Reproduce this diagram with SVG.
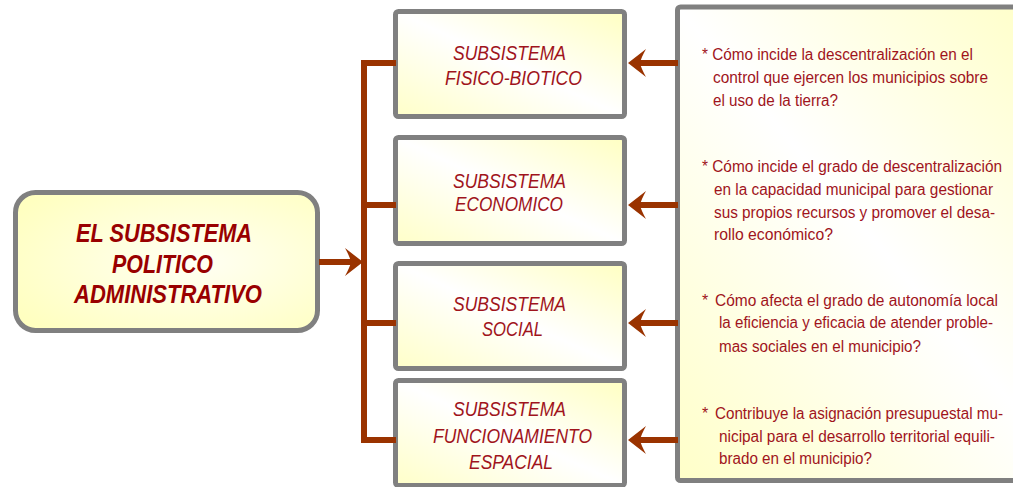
<svg xmlns="http://www.w3.org/2000/svg" width="1013" height="487" viewBox="0 0 1013 487">
<defs>
<linearGradient id="fillG" x1="1" y1="0" x2="0" y2="1">
<stop offset="0" stop-color="#FFFFC2"/>
<stop offset="0.5" stop-color="#FFFFFF"/>
<stop offset="1" stop-color="#FFFFC8"/>
</linearGradient>
<radialGradient id="mainG" cx="0.6" cy="0.5" r="0.7">
<stop offset="0" stop-color="#FFFFF4"/>
<stop offset="1" stop-color="#FFFFC0"/>
</radialGradient>
<marker id="arr" markerUnits="userSpaceOnUse" viewBox="-8 -16 22 32" markerWidth="22" markerHeight="32" refX="0" refY="0" orient="auto">
<path d="M12,0 L-6,-14 Q-1,-5 0,0 Q-1,5 -6,14 Z" fill="#9A3300"/>
</marker>
</defs>
<style>
.box{stroke:#808080;stroke-width:5;fill:url(#fillG)}
.conn{stroke:#9A3300;stroke-width:6;fill:none}
.sub{font-family:"Liberation Sans",Arial,sans-serif;font-style:italic;font-size:20px;fill:#A0141C}
.main{font-family:"Liberation Sans",Arial,sans-serif;font-style:italic;font-weight:bold;font-size:25px;fill:#990000}
.q{font-family:"Liberation Sans",Arial,sans-serif;font-size:16px;fill:#A0141C}
</style>
<g id="main">
<rect x="15.5" y="192.5" width="302" height="138" rx="20" ry="20" stroke="#808080" stroke-width="5" fill="url(#mainG)"/>
<text class="main" x="76" y="242" textLength="176" lengthAdjust="spacingAndGlyphs">EL SUBSISTEMA</text>
<text class="main" x="112" y="273" textLength="101" lengthAdjust="spacingAndGlyphs">POLITICO</text>
<text class="main" x="74" y="303" textLength="188" lengthAdjust="spacingAndGlyphs">ADMINISTRATIVO</text>
</g>
<g id="fisico">
<rect class="box" x="395.5" y="11.5" width="229" height="105" rx="3"/>
<text class="sub" x="453" y="60" textLength="113" lengthAdjust="spacingAndGlyphs">SUBSISTEMA</text>
<text class="sub" x="445" y="85" textLength="137" lengthAdjust="spacingAndGlyphs">FISICO-BIOTICO</text>
</g>
<g id="economico">
<rect class="box" x="395.5" y="137.5" width="229" height="106" rx="3"/>
<text class="sub" x="453" y="188" textLength="113" lengthAdjust="spacingAndGlyphs">SUBSISTEMA</text>
<text class="sub" x="455" y="211" textLength="108" lengthAdjust="spacingAndGlyphs">ECONOMICO</text>
</g>
<g id="social">
<rect class="box" x="395.5" y="263.5" width="229" height="105" rx="3"/>
<text class="sub" x="453" y="311" textLength="113" lengthAdjust="spacingAndGlyphs">SUBSISTEMA</text>
<text class="sub" x="482" y="336" textLength="61" lengthAdjust="spacingAndGlyphs">SOCIAL</text>
</g>
<g id="espacial">
<rect class="box" x="395.5" y="380.5" width="229" height="105" rx="3"/>
<text class="sub" x="453" y="416" textLength="113" lengthAdjust="spacingAndGlyphs">SUBSISTEMA</text>
<text class="sub" x="433" y="443" textLength="159" lengthAdjust="spacingAndGlyphs">FUNCIONAMIENTO</text>
<text class="sub" x="469" y="469" textLength="84" lengthAdjust="spacingAndGlyphs">ESPACIAL</text>
</g>
<g id="preguntas">
<rect class="box" x="677.5" y="7" width="400" height="473.5" rx="3"/>
<text class="q" x="702" y="60" textLength="271" lengthAdjust="spacingAndGlyphs">* Cómo incide la descentralización en el</text>
<text class="q" x="713" y="83" textLength="275" lengthAdjust="spacingAndGlyphs">control que ejercen los municipios sobre</text>
<text class="q" x="713" y="106" textLength="125" lengthAdjust="spacingAndGlyphs">el uso de la tierra?</text>
<text class="q" x="702" y="172" textLength="300" lengthAdjust="spacingAndGlyphs">* Cómo incide el grado de descentralización</text>
<text class="q" x="714" y="195" textLength="279" lengthAdjust="spacingAndGlyphs">en la capacidad municipal para gestionar</text>
<text class="q" x="714" y="218" textLength="281" lengthAdjust="spacingAndGlyphs">sus propios recursos y promover el desa-</text>
<text class="q" x="714" y="240" textLength="119" lengthAdjust="spacingAndGlyphs">rollo económico?</text>
<text class="q" x="702" y="306">*</text>
<text class="q" x="715" y="306" textLength="283" lengthAdjust="spacingAndGlyphs">Cómo afecta el grado de autonomía local</text>
<text class="q" x="719" y="328" textLength="274" lengthAdjust="spacingAndGlyphs">la eficiencia y eficacia de atender proble-</text>
<text class="q" x="719" y="352" textLength="202" lengthAdjust="spacingAndGlyphs">mas sociales en el municipio?</text>
<text class="q" x="702" y="419">*</text>
<text class="q" x="715" y="419" textLength="288" lengthAdjust="spacingAndGlyphs">Contribuye la asignación presupuestal mu-</text>
<text class="q" x="719" y="442" textLength="276" lengthAdjust="spacingAndGlyphs">nicipal para el desarrollo territorial equili-</text>
<text class="q" x="719" y="464" textLength="153" lengthAdjust="spacingAndGlyphs">brado en el municipio?</text>
</g>
<g id="connectors">
<path class="conn" d="M396,63 H364 V440 H396 M364,205 H396 M364,323 H396"/>
<line class="conn" x1="319" y1="262" x2="351" y2="262" marker-end="url(#arr)"/>
<line class="conn" x1="678" y1="63" x2="640" y2="63" marker-end="url(#arr)"/>
<line class="conn" x1="678" y1="205" x2="640" y2="205" marker-end="url(#arr)"/>
<line class="conn" x1="678" y1="323" x2="640" y2="323" marker-end="url(#arr)"/>
<line class="conn" x1="678" y1="440" x2="640" y2="440" marker-end="url(#arr)"/>
</g>
</svg>
